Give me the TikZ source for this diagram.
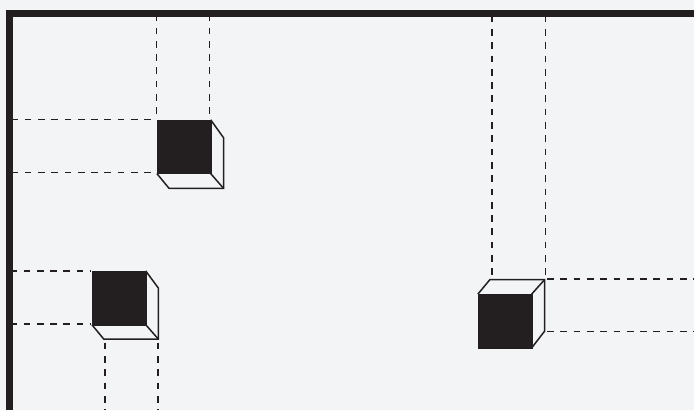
\documentclass[tikz,border=0pt]{standalone}
\usepackage{xcolor}
\definecolor{ink}{HTML}{231F20}
\definecolor{paper}{HTML}{F3F4F6}
\tikzset{
  face/.style={shape=rectangle, fill=ink, draw=ink, line width=0.4pt, minimum size=53.8pt, inner sep=0pt, outer sep=0pt},
  edge/.style={draw=ink, line width=1.5pt, line join=miter},
  guide/.style={draw=ink, line width=1.35pt, dash pattern=on 6.7pt off 6.6pt},
}
\begin{document}
\begin{tikzpicture}[x=1pt, y=-1pt]
\fill [paper] (0, 0) rectangle (694, 410);
\useasboundingbox (0, 0) rectangle (694, 410);
\clip (0, 0) rectangle (694, 410);
% upper left cube
\node at (183.8, 146.7) [face] (front1) {};
\coordinate (top1) at (223.5, 137.7);
\coordinate (corner1) at (223.5, 188.3);
\coordinate (low1) at (169, 188.3);
\draw [edge] (front1.north east) to (top1) to (corner1) to (low1) to (front1.south west);
\draw [edge] (front1.south east) to (corner1);
% lower left cube
\node at (118.8, 297.8) [face] (front2) {};
\coordinate (top2) at (158.3, 288);
\coordinate (corner2) at (158.3, 339);
\coordinate (low2) at (103.7, 339);
\draw [edge] (front2.north east) to (top2) to (corner2) to (low2) to (front2.south west);
\draw [edge] (front2.south east) to (corner2);
% right cube
\node at (504.8, 321) [face] (front3) {};
\coordinate (back3) at (490, 279.5);
\coordinate (corner3) at (544.7, 279.5);
\coordinate (low3) at (544.7, 331);
\draw [edge] (front3.north west) to (back3) to (corner3) to (low3) to (front3.south east);
\draw [edge] (front3.north east) to (corner3);
% guides, upper left
\coordinate (a1) at (156.5, 14.2);
\coordinate (a2) at (209.5, 14.2);
\coordinate (a3) at (11.3, 119.8);
\coordinate (a4) at (11.3, 172.8);
\coordinate (a5) at (209.5, 119);
\coordinate (a6) at (156, 172.8);
\coordinate (a7) at (156, 119.8);
\draw [guide] (a1) to (a7 -| a1);
\draw [guide] (a2) to (a5);
\draw [guide] (a3) to (a7);
\draw [guide] (a4) to (a6);
% guides, lower left
\coordinate (b1) at (10.2, 271);
\coordinate (b2) at (10.2, 324);
\coordinate (b3) at (105, 342.7);
\coordinate (b4) at (158, 342.7);
\coordinate (b5) at (105, 410);
\coordinate (b6) at (158, 410);
\coordinate (b7) at (91, 271);
\coordinate (b8) at (91, 324);
\draw [guide] (b1) to (b7);
\draw [guide] (b2) to (b8);
\draw [guide] (b3) to (b5);
\draw [guide] (b4) to (b6);
% guides, right
\coordinate (c1) at (492, 15.6);
\coordinate (c2) at (545.5, 15.6);
\coordinate (c3) at (492, 277);
\coordinate (c4) at (694, 279);
\coordinate (c5) at (694, 331.5);
\coordinate (c6) at (547, 331.5);
\coordinate (c7) at (547, 279);
\draw [guide] (c1) to (c3);
\draw [guide] (c2) to (c2 |- c3);
\draw [guide] (c7) to (c4);
\draw [guide] (c6) to (c5);
% frame
\coordinate (f1) at (9.5, 410);
\coordinate (f2) at (9.5, 13.5);
\coordinate (f3) at (694, 13.5);
\draw [draw=ink, line width=7pt] (f1) to (f2) to (f3);
\end{tikzpicture}
\end{document}
